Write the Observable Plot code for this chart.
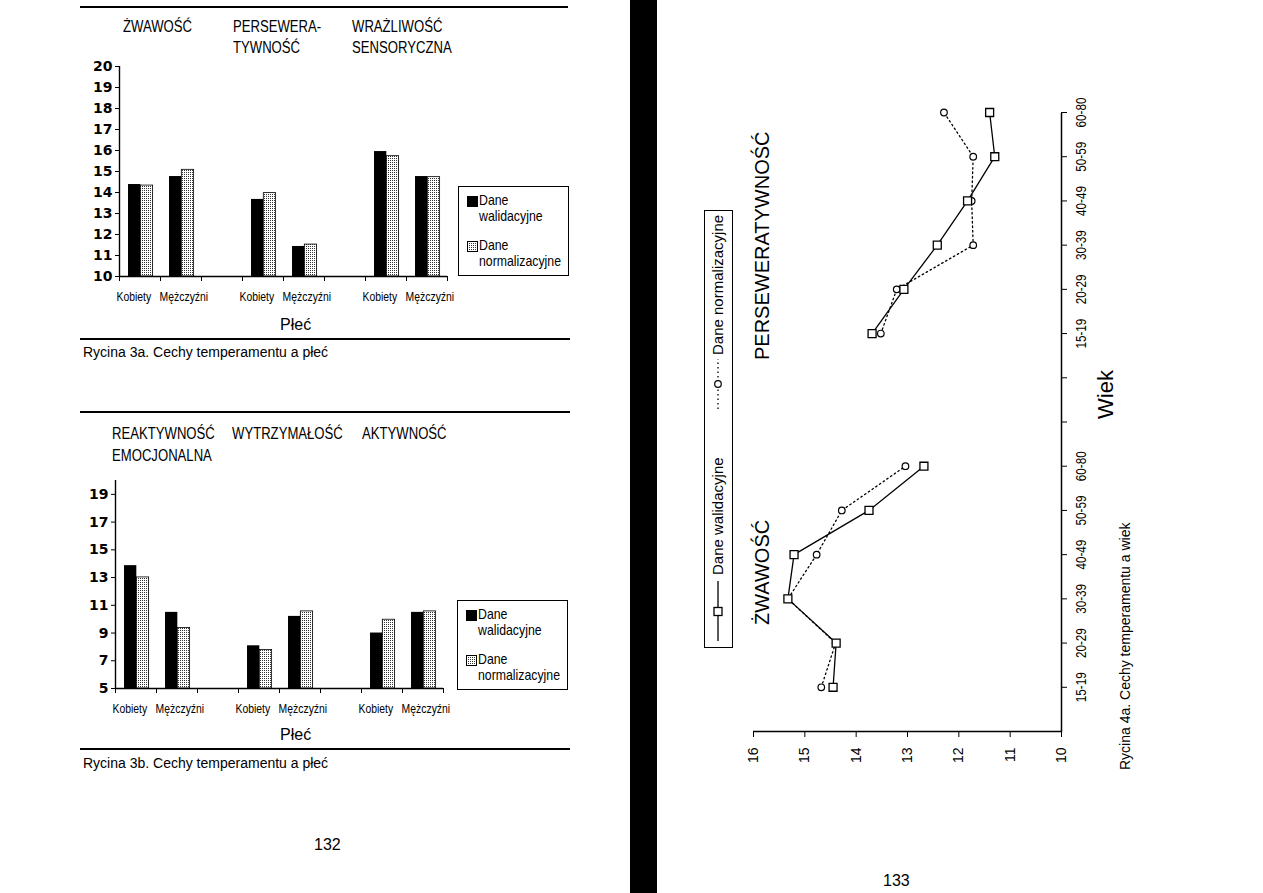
<!DOCTYPE html>
<html>
<head>
<meta charset="utf-8">
<script src="https://cdn.jsdelivr.net/npm/d3@7"></script>
<script src="https://cdn.jsdelivr.net/npm/@observablehq/plot@0.6"></script>
<style>
  html, body { margin: 0; padding: 0; background: #fff; }
  #page { position: relative; width: 1263px; height: 893px; overflow: hidden; background: #fff;
          font-family: "Liberation Sans", Arial, sans-serif; color: #000; }
  .abs { position: absolute; white-space: pre; }
  .narrow { transform: scaleX(0.82); transform-origin: 0 0; }
  .rule { position: absolute; background: #000; }
  .legbox { position: absolute; border: 1px solid #000; background: #fff; box-sizing: border-box; }
  svg { overflow: visible; }
</style>
</head>
<body>
<svg width="0" height="0" style="position:absolute">
  <defs>
    <pattern id="dots" width="2" height="2" patternUnits="userSpaceOnUse">
      <rect width="2" height="2" fill="#fff"></rect>
      <rect width="1" height="1" fill="#333"></rect>
    </pattern>
  </defs>
</svg>
<div id="page"></div>
<script>
// ---------------- DATA ----------------
const series = ["Dane walidacyjne", "Dane normalizacyjne"];
const sexes = ["Kobiety", "Mężczyźni"];

// Rycina 3a
const traits3a = ["ŻWAWOŚĆ", "PERSEWERA-\nTYWNOŚĆ", "WRAŻLIWOŚĆ\nSENSORYCZNA"];
const walid3a = [14.38, 14.76, 13.67, 11.43, 15.95, 14.76];
const norm3a  = [14.33, 15.08, 13.97, 11.52, 15.73, 14.73];
const yTicks3a = [10, 11, 12, 13, 14, 15, 16, 17, 18, 19, 20];
const caption3a = "Rycina 3a. Cechy temperamentu a płeć";

// Rycina 3b
const traits3b = ["REAKTYWNOŚĆ\nEMOCJONALNA", "WYTRZYMAŁOŚĆ", "AKTYWNOŚĆ"];
const walid3b = [13.86, 10.49, 8.08, 10.20, 9.00, 10.49];
const norm3b  = [13.01, 9.36, 7.77, 10.56, 9.96, 10.56];
const yTicks3b = [5, 7, 9, 11, 13, 15, 17, 19];
const caption3b = "Rycina 3b. Cechy temperamentu a płeć";
const xTitle3 = "Płeć";

// Rycina 4a
const traits4a = ["ŻWAWOŚĆ", "PERSEWERATYWNOŚĆ"];
const ageGroups = ["15-19", "20-29", "30-39", "40-49", "50-59", "60-80"];
const walid4aZw = [14.45, 14.39, 15.33, 15.21, 13.75, 12.68];
const norm4aZw  = [14.68, 14.40, 15.33, 14.77, 14.28, 13.04];
const walid4aPe = [13.69, 13.07, 12.42, 11.83, 11.30, 11.40];
const norm4aPe  = [13.52, 13.21, 11.72, 11.75, 11.72, 12.29];
const yTicks4a = [10, 11, 12, 13, 14, 15, 16];
const caption4a = "Rycina 4a. Cechy temperamentu a wiek";
const xTitle4a = "Wiek";

const pageNumbers = ["132", "133"];

// ---------------- HELPERS ----------------
const SANS = '"Liberation Sans", Arial, sans-serif';
const page = document.getElementById("page");

function addText(parent, text, css, cls) {
  const d = document.createElement("div");
  d.className = "abs" + (cls ? " " + cls : "");
  d.textContent = text;
  d.style.cssText += css;
  parent.appendChild(d);
  return d;
}
function addRule(parent, x, y, w, h) {
  const d = document.createElement("div");
  d.className = "rule";
  d.style.cssText = `left:${x}px;top:${y}px;width:${w}px;height:${h}px;`;
  parent.appendChild(d);
}
function place(parent, node, x, y) {
  node.style.position = "absolute";
  node.style.left = x + "px";
  node.style.top = y + "px";
  parent.appendChild(node);
}
// condense x-axis tick labels (narrow typeface look)
function condenseXLabels(svg, k) {
  d3.select(svg).selectAll('g[aria-label="x-axis tick label"] text').each(function () {
    const t = this.getAttribute("transform") || "";
    this.setAttribute("transform", t + ` scale(${k},1)`);
  });
  return svg;
}

function barChart({walid, norm, yDomain, yTicks, width, height, marginLeft, marginRight}) {
  const bars = [];
  [walid, norm].forEach((vals, k) => vals.forEach((v, i) => {
    const t = Math.floor(i / 2), s = i % 2;
    bars.push({slot: t * 3 + s, sex: sexes[s], series: series[k], k, value: v});
  }));
  const slots = bars.filter(b => b.k === 0).map(b => b.slot);
  const base = yDomain[0];
  const labelPos = slots.map(s => s + (s % 3 === 0 ? 0.35 : 0.57));
  const svg = Plot.plot({
    width, height, marginTop: 10, marginBottom: 42, marginLeft, marginRight,
    x: {domain: [0, 8], axis: null},
    y: {domain: yDomain, axis: null},
    style: {background: "transparent", color: "#000", fontFamily: SANS},
    marks: [
      Plot.rect(bars.filter(b => b.k === 0), {
        x1: b => b.slot + 0.22, x2: b => b.slot + 0.52, y1: () => base, y2: "value", fill: "black"
      }),
      Plot.rect(bars.filter(b => b.k === 1), {
        x1: b => b.slot + 0.52, x2: b => b.slot + 0.82, y1: () => base, y2: "value",
        fill: "url(#dots)", stroke: "black", strokeWidth: 0.8
      }),
      Plot.ruleX([0], {y1: () => yDomain[0], y2: () => yDomain[1], strokeWidth: 1.4}),
      Plot.ruleY([base], {x1: () => 0, x2: () => 8, strokeWidth: 1.4}),
      Plot.axisY(yTicks, {tickSize: 4, tickPadding: 3, label: null, fontFamily: "DejaVu Sans",
        fontWeight: "bold", fontSize: 14, tickFormat: d => String(d)}),
      Plot.axisX(d3.range(0, 9), {tickSize: 5, tickFormat: () => "", label: null}),
      Plot.axisX(labelPos, {tickSize: 0, tickPadding: 15, label: null,
        fontFamily: SANS, fontSize: 13, tickFormat: d => sexes[Math.floor(d) % 3]})
    ]
  });
  return condenseXLabels(svg, 0.8);
}

function barLegend(parent, x, y) {
  const box = document.createElement("div");
  box.className = "legbox";
  box.style.cssText += `left:${x}px;top:${y}px;width:111px;height:90px;`;
  parent.appendChild(box);
  const sw = (fill, top) => {
    const s = document.createElementNS("http://www.w3.org/2000/svg", "svg");
    s.setAttribute("width", 11); s.setAttribute("height", 11);
    s.innerHTML = `<rect x="0.5" y="0.5" width="10" height="10" fill="${fill}" stroke="#000" stroke-width="1"/>`;
    place(box, s, 8, top);
  };
  sw("#000", 9);
  addText(box, "Dane\nwalidacyjne", "left:20px;top:5px;font-size:15px;line-height:15.5px;", "narrow");
  sw("url(#dots)", 54);
  addText(box, "Dane\nnormalizacyjne", "left:20px;top:50px;font-size:15px;line-height:15.5px;", "narrow");
}

// ---------------- RYCINA 3a ----------------
addRule(page, 80, 6, 488, 2);
addText(page, traits3a[0], "left:123px;top:16px;font-size:16px;line-height:21px;", "narrow");
addText(page, traits3a[1], "left:233px;top:16px;font-size:16px;line-height:21px;", "narrow");
addText(page, traits3a[2], "left:352px;top:16px;font-size:16px;line-height:21px;", "narrow");
const c3a = barChart({walid: walid3a, norm: norm3a, yDomain: [10, 20], yTicks: yTicks3a,
  width: 490, height: 262, marginLeft: 39, marginRight: 123});
place(page, c3a, 80, 56);
barLegend(page, 458, 186);
addText(page, xTitle3, "left:280px;top:315px;font-size:16px;line-height:20px;");
addRule(page, 80, 338, 490, 2);
addText(page, caption3a, "left:83px;top:344px;font-size:14px;line-height:16px;");

// ---------------- RYCINA 3b ----------------
addRule(page, 80, 411, 490, 2);
addText(page, traits3b[0], "left:112px;top:423px;font-size:16px;line-height:22px;", "narrow");
addText(page, traits3b[1], "left:232px;top:423px;font-size:16px;line-height:22px;", "narrow");
addText(page, traits3b[2], "left:362px;top:423px;font-size:16px;line-height:22px;", "narrow");
const c3b = barChart({walid: walid3b, norm: norm3b, yDomain: [5, 20], yTicks: yTicks3b,
  width: 490, height: 260, marginLeft: 35, marginRight: 127});
place(page, c3b, 80, 470);
barLegend(page, 457, 600);
addText(page, xTitle3, "left:280px;top:725px;font-size:16px;line-height:20px;");
addRule(page, 80, 748, 490, 2);
addText(page, caption3b, "left:83px;top:755px;font-size:14px;line-height:16px;");

addText(page, pageNumbers[0], "left:314px;top:835px;font-size:16px;line-height:20px;");

// ---------------- gutter ----------------
addRule(page, 630, 0, 27, 893);

// ---------------- RYCINA 4a (rotated) ----------------
const pts = [];
[[walid4aZw, norm4aZw], [walid4aPe, norm4aPe]].forEach((pair, ti) => {
  pair.forEach((vals, k) => vals.forEach((v, ai) => {
    pts.push({trait: traits4a[ti], series: series[k], k, age: ageGroups[ai], pos: ti * 8 + ai + 1, value: v});
  }));
});
const wPts = pts.filter(d => d.k === 0), nPts = pts.filter(d => d.k === 1);

const rot = document.createElement("div");
rot.style.cssText = "position:absolute;left:0;top:0;width:710px;height:450px;transform-origin:0 0;transform:translate(690px,790px) rotate(-90deg);";
page.appendChild(rot);

const c4a = condenseXLabels(Plot.plot({
  width: 710, height: 450, marginLeft: 58, marginRight: 33, marginTop: 63, marginBottom: 79,
  x: {domain: [0, 14], axis: null},
  y: {domain: [10, 16], axis: null},
  style: {background: "transparent", color: "#000", fontFamily: SANS},
  marks: [
    Plot.ruleX([0], {y1: () => 10, y2: () => 16, strokeWidth: 1.7}),
    Plot.ruleY([10], {x1: () => 0, x2: () => 14, strokeWidth: 1.5}),
    Plot.axisY(yTicks4a, {tickSize: 5, tickPadding: 11, label: null, fontSize: 14,
      fontFamily: SANS, tickFormat: d => String(d)}),
    Plot.axisX(d3.range(1, 15), {tickSize: 6, tickPadding: 8, label: null, fontSize: 15, fontFamily: SANS,
      tickFormat: d => { const a = (d - 1) % 8; return a < 6 ? ageGroups[a] : ""; }}),
    Plot.line(nPts, {x: "pos", y: "value", z: "trait", stroke: "black", strokeWidth: 1.3, strokeDasharray: "1.5 3"}),
    Plot.line(wPts, {x: "pos", y: "value", z: "trait", stroke: "black", strokeWidth: 1.3}),
    Plot.dot(nPts, {x: "pos", y: "value", symbol: "circle", r: 3.3, fill: "white", stroke: "black", strokeWidth: 1.2}),
    Plot.dot(wPts, {x: "pos", y: "value", symbol: "square", r: 4.5, fill: "white", stroke: "black", strokeWidth: 1.3})
  ]
}), 0.78);
place(rot, c4a, 0, 0);

addText(rot, traits4a[0], "left:165px;top:60px;font-size:20px;line-height:24px;");
addText(rot, traits4a[1], "left:430px;top:60px;font-size:20px;line-height:24px;");
addText(rot, xTitle4a, "left:371px;top:403px;font-size:22px;line-height:26px;");
addText(rot, caption4a, "left:20px;top:427px;font-size:14px;line-height:17px;");

// legend of 4a
const lg = document.createElement("div");
lg.className = "legbox";
lg.style.cssText += "left:142px;top:14px;width:438px;height:29px;border-width:1.5px;";
rot.appendChild(lg);
const ls1 = document.createElementNS("http://www.w3.org/2000/svg", "svg");
ls1.setAttribute("width", 60); ls1.setAttribute("height", 14);
ls1.innerHTML = '<line x1="0" y1="7" x2="60" y2="7" stroke="#000" stroke-width="1.3"/><rect x="25.5" y="3" width="8" height="8" fill="#fff" stroke="#000" stroke-width="1.3"/>';
place(lg, ls1, 6, 6);
addText(lg, series[0], "left:72px;top:4px;font-size:15px;line-height:18px;");
const ls2 = document.createElementNS("http://www.w3.org/2000/svg", "svg");
ls2.setAttribute("width", 50); ls2.setAttribute("height", 14);
ls2.innerHTML = '<line x1="0" y1="7" x2="50" y2="7" stroke="#000" stroke-width="1.3" stroke-dasharray="1.5 3"/><circle cx="25" cy="7" r="3.3" fill="#fff" stroke="#000" stroke-width="1.2"/>';
place(lg, ls2, 238, 6);
addText(lg, series[1], "left:292px;top:4px;font-size:15px;line-height:18px;");

addText(page, pageNumbers[1], "left:883px;top:871px;font-size:16px;line-height:20px;");
</script>
</body>
</html>
